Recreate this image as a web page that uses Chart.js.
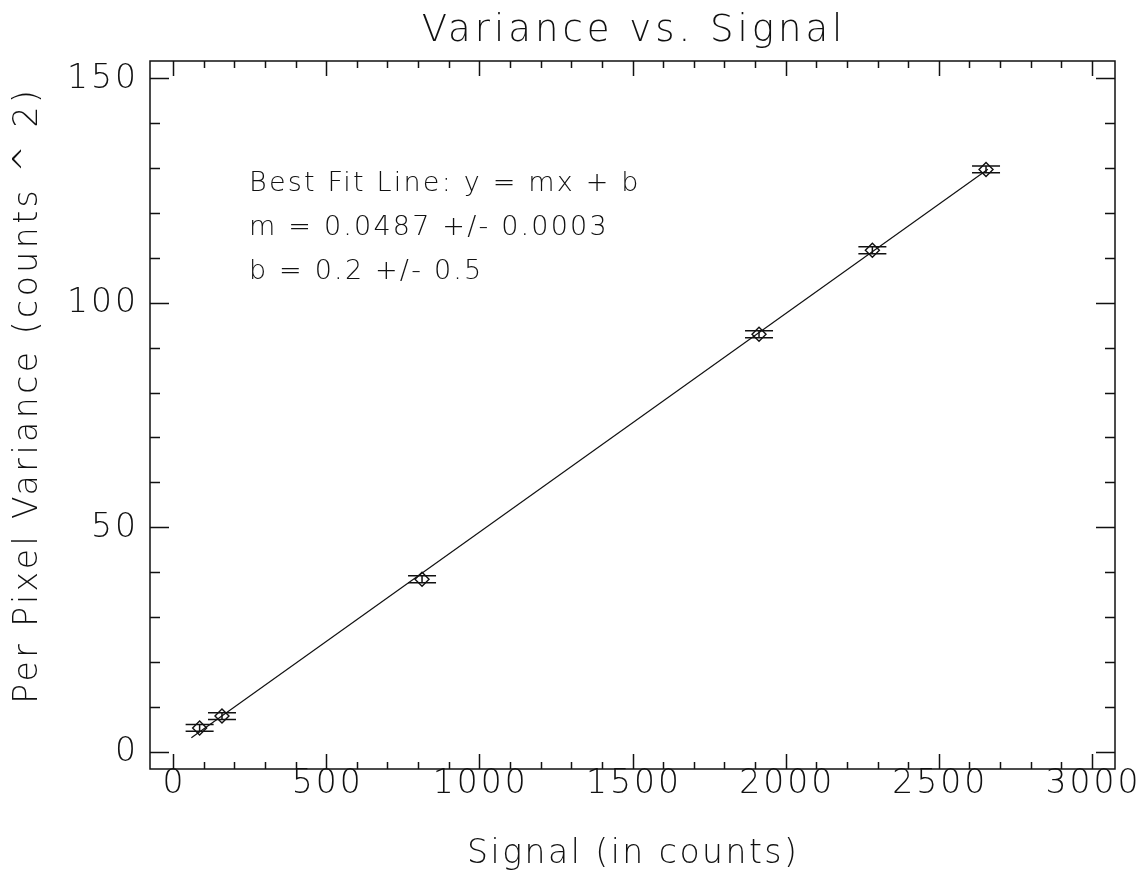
<!DOCTYPE html>
<html>
<head>
<meta charset="utf-8">
<script src="https://cdn.jsdelivr.net/npm/chart.js@4.4.0/dist/chart.umd.min.js"></script>
<style>
  html, body { margin: 0; padding: 0; background: #fff; }
  #wrap { width: 1146px; height: 878px; }
</style>
</head>
<body>
<div id="wrap"><canvas id="chart-variance"></canvas></div>
<script>
// measured points (signal, variance, variance error)
const signal = [87, 160, 813, 1913, 2283, 2654];
const variance = [5.3, 7.95, 38.4, 93.0, 111.7, 129.7];
const varErr = [0.75, 0.75, 0.78, 0.78, 0.78, 0.75];

// best fit y = m x + b
const slope = 0.0487;
const intercept = 0.2;
const fitX = [60, 2660];

const xTicks = [0, 500, 1000, 1500, 2000, 2500, 3000];
const yTicks = [0, 50, 100, 150];

const noteLines = [
  "Best Fit Line: y = mx + b",
  "m = 0.0487 +/- 0.0003",
  "b = 0.2 +/- 0.5",
];

const FONT = '"DejaVu Sans", sans-serif';
const INK = "#111";

const fitData = fitX.map((x) => ({ x: x, y: slope * x + intercept }));
const pointData = signal.map((s, i) => ({ x: s, y: variance[i] }));

function spacedText(ctx, text, x, y, spacing) {
  ctx.letterSpacing = spacing + "px";
  let sx = x;
  if (ctx.textAlign === "center") sx = x + spacing / 2;
  if (ctx.textAlign === "right") sx = x + spacing;
  ctx.fillText(text, sx, y);
  ctx.letterSpacing = "0px";
}

const frameAndText = {
  id: "frameAndText",
  afterDatasetsDraw(chart) {
    const ctx = chart.ctx;
    const xs = chart.scales.x;
    const ys = chart.scales.y;
    const a = chart.chartArea;
    ctx.save();
    ctx.strokeStyle = INK;
    ctx.lineWidth = 1.5;

    // error bars
    const meta = chart.getDatasetMeta(1);
    meta.data.forEach((pt, i) => {
      const px = pt.x;
      const top = ys.getPixelForValue(variance[i] + varErr[i]);
      const bot = ys.getPixelForValue(variance[i] - varErr[i]);
      ctx.beginPath();
      ctx.moveTo(px, top);
      ctx.lineTo(px, bot);
      ctx.moveTo(px - 14, top);
      ctx.lineTo(px + 14, top);
      ctx.moveTo(px - 14, bot);
      ctx.lineTo(px + 14, bot);
      ctx.stroke();
    });

    // box
    ctx.strokeRect(a.left, a.top, a.right - a.left, a.bottom - a.top);

    // x ticks, minor every 100
    ctx.beginPath();
    for (let v = 0; v <= 3000; v += 100) {
      const px = Math.round(xs.getPixelForValue(v)) + 0.5;
      const len = v % 500 === 0 ? 15 : 7;
      ctx.moveTo(px, a.bottom);
      ctx.lineTo(px, a.bottom - len);
      ctx.moveTo(px, a.top);
      ctx.lineTo(px, a.top + len);
    }
    // y ticks, minor every 10
    for (let v = 0; v <= 150; v += 10) {
      const py = Math.round(ys.getPixelForValue(v)) + 0.5;
      const len = v % 50 === 0 ? 19 : 10;
      ctx.moveTo(a.left, py);
      ctx.lineTo(a.left + len, py);
      ctx.moveTo(a.right, py);
      ctx.lineTo(a.right - len, py);
    }
    ctx.stroke();

    ctx.fillStyle = INK;
    ctx.textBaseline = "middle";

    // tick labels
    ctx.font = "200 33px " + FONT;
    ctx.textAlign = "center";
    xTicks.forEach((v) => {
      spacedText(ctx, String(v), xs.getPixelForValue(v), 784, 3);
    });
    ctx.textAlign = "right";
    yTicks.forEach((v) => {
      spacedText(ctx, String(v), 136, ys.getPixelForValue(v) + 1, 3);
    });

    // titles
    ctx.textAlign = "center";
    ctx.font = "200 37px " + FONT;
    spacedText(ctx, "Variance vs. Signal", 632, 31, 4);
    ctx.font = "200 33px " + FONT;
    spacedText(ctx, "Signal (in counts)", 632, 854, 2.5);
    ctx.save();
    ctx.translate(28, 397);
    ctx.rotate(-Math.PI / 2);
    spacedText(ctx, "Per Pixel Variance (counts ^ 2)", 0, 0, 3.5);
    ctx.restore();

    // fit note
    ctx.textAlign = "left";
    ctx.font = "200 27px " + FONT;
    noteLines.forEach((t, i) => {
      spacedText(ctx, t, 249, 184 + i * 44, 2.2);
    });
    ctx.restore();
  },
};

new Chart(document.getElementById("chart-variance").getContext("2d"), {
  type: "scatter",
  plugins: [frameAndText],
  data: {
    datasets: [
      {
        type: "line",
        label: "fit",
        data: fitData,
        borderColor: INK,
        borderWidth: 1.2,
        pointRadius: 0,
        tension: 0,
        fill: false,
      },
      {
        label: "variance",
        data: pointData,
        pointStyle: "rectRot",
        pointRadius: 7,
        borderColor: INK,
        borderWidth: 1.4,
        backgroundColor: "rgba(0,0,0,0)",
      },
    ],
  },
  options: {
    responsive: true,
    maintainAspectRatio: false,
    animation: false,
    layout: { padding: { top: 61, right: 31, left: 0, bottom: 0 } },
    plugins: {
      legend: { display: false },
      tooltip: { enabled: false },
      title: { display: false },
    },
    scales: {
      x: {
        type: "linear",
        min: -75,
        max: 3075,
        afterBuildTicks: (scale) => {
          scale.ticks = xTicks.map((v) => ({ value: v }));
        },
        afterFit: (scale) => {
          scale.height = 109;
        },
        grid: { display: false, drawTicks: false },
        border: { display: false },
        ticks: { display: false },
      },
      y: {
        type: "linear",
        min: -3.85,
        max: 153.85,
        afterBuildTicks: (scale) => {
          scale.ticks = yTicks.map((v) => ({ value: v }));
        },
        afterFit: (scale) => {
          scale.width = 150;
        },
        grid: { display: false, drawTicks: false },
        border: { display: false },
        ticks: { display: false },
      },
    },
  },
});
</script>
</body>
</html>
